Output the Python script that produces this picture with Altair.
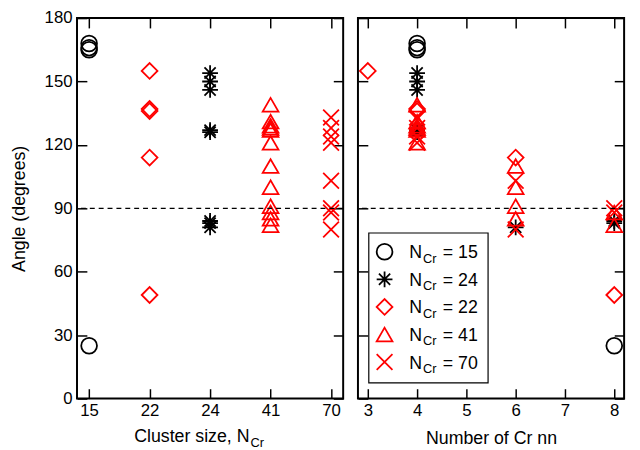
import json
import altair as alt
import pandas as pd

# ---------------- data ----------------
CLUSTER_SIZES = [15, 22, 24, 41, 70]
SERIES = ["15", "24", "22", "41", "70"]          # legend order

ANGLE_15 = [168, 166, 165, 25]
NN_15 = [4, 4, 4, 8]
ANGLE_24 = [154, 150, 146, 127, 126, 84, 83, 81]
NN_24 = [4, 4, 4, 4, 4, 8, 8, 6]
ANGLE_22 = [155, 137, 136, 114, 49]
NN_22 = [3, 4, 4, 6, 8]
ANGLE_41 = [139, 131, 129, 128, 127, 121, 110, 100, 91, 88, 85, 82]
NN_41 = [4, 4, 4, 4, 4, 4, 6, 6, 6, 8, 6, 8]
ANGLE_70 = [133, 128, 124, 121, 103, 90, 88, 80]
NN_70 = [4, 4, 4, 4, 6, 8, 8, 6]

Y_TICKS = [0, 30, 60, 90, 120, 150, 180]
NN_TICKS = [3, 4, 5, 6, 7, 8]
REF_ANGLE = 90

series_data = {
    "15": (ANGLE_15, NN_15),
    "24": (ANGLE_24, NN_24),
    "22": (ANGLE_22, NN_22),
    "41": (ANGLE_41, NN_41),
    "70": (ANGLE_70, NN_70),
}
rows = []
for s, (angles, nns) in series_data.items():
    pos = CLUSTER_SIZES.index(int(s)) + 1
    for a, n in zip(angles, nns):
        rows.append({"series": s, "pos": pos, "nn": n, "angle": a})
df = pd.DataFrame(rows)
legend_df = pd.DataFrame({"series": SERIES, "idx": list(range(len(SERIES)))})

# ---------------- style ----------------
FONT = "Liberation Sans"
ASTERISK = "M0,-1L0,1M-1,0L1,0M-0.71,-0.71L0.71,0.71M-0.71,0.71L0.71,-0.71"
XCROSS = "M-1,-1L1,1M-1,1L1,-1"
COLORS = ["black", "black", "red", "red", "red"]
SHAPES = ["circle", ASTERISK, "diamond", "triangle-up", XCROSS]
SIZES = [256, 256, 310, 330, 170]
W, H = 270, 386
TICK = 10

shape_enc = alt.Shape("series:N", scale=alt.Scale(domain=SERIES, range=SHAPES), legend=None)
color_enc = alt.Color("series:N", scale=alt.Scale(domain=SERIES, range=COLORS), legend=None)
size_enc = alt.Size("series:O", scale=alt.Scale(domain=SERIES, range=SIZES), legend=None)

axis_common = dict(tickSize=TICK, offset=-TICK, domain=False, grid=False,
                   tickColor="black", tickWidth=1.5, labelFont=FONT,
                   labelFontSize=17, labelColor="black")

y_scale = alt.Scale(domain=[0, 180], nice=False, zero=False)

size_labels = json.dumps([str(c) for c in CLUSTER_SIZES])


def panel(xfield, xscale, xvalues, xlabel_expr, xtitle, show_y_labels):
    xaxis = dict(axis_common, values=xvalues, labelPadding=4)
    if xlabel_expr:
        xaxis["labelExpr"] = xlabel_expr
    if xtitle:
        xaxis.update(title=xtitle, titleFont=FONT, titleFontSize=18,
                     titleFontWeight="normal", titleColor="black", titlePadding=12)
    else:
        xaxis["title"] = None
    yaxis = dict(axis_common, values=Y_TICKS, labelPadding=5)
    if show_y_labels:
        yaxis.update(title="Angle (degrees)", titleFont=FONT, titleFontSize=18,
                     titleFontWeight="normal", titleColor="black", titlePadding=16)
    else:
        yaxis.update(labels=False, title=None)

    pts = alt.Chart(df).mark_point(filled=False, strokeWidth=1.8, opacity=1).encode(
        x=alt.X(f"{xfield}:Q", scale=xscale, axis=alt.Axis(**xaxis)),
        y=alt.Y("angle:Q", scale=y_scale, axis=alt.Axis(**yaxis)),
        shape=shape_enc, color=color_enc, size=size_enc,
    )
    mirror = alt.Chart(df).mark_point(opacity=0).encode(
        x=alt.X(f"{xfield}:Q", axis=alt.Axis(**dict(axis_common, values=xvalues, orient="top",
                                                    labels=False, title=None))),
        y=alt.Y("angle:Q", axis=alt.Axis(**dict(axis_common, values=Y_TICKS, orient="right",
                                               labels=False, title=None))),
    )
    rule = alt.Chart(pd.DataFrame({"a": [REF_ANGLE]})).mark_rule(
        color="black", strokeDash=[5, 4], strokeWidth=1.3
    ).encode(y=alt.Y("a:Q", axis=None))
    return [pts, rule, mirror]


left_layers = panel("pos", alt.Scale(domain=[0.8, 5.2], nice=False, zero=False),
                    [1, 2, 3, 4, 5], f"{size_labels}[datum.value - 1]", None, True)

xt_main = alt.Chart(pd.DataFrame({"t": ["Cluster size, N"]})).mark_text(
    font=FONT, fontSize=18, align="right", baseline="alphabetic", color="black"
).encode(text="t:N", x=alt.value(175), y=alt.value(H + 44))
xt_sub = alt.Chart(pd.DataFrame({"t": ["Cr"]})).mark_text(
    font=FONT, fontSize=13, align="left", baseline="alphabetic", color="black"
).encode(text="t:N", x=alt.value(176), y=alt.value(H + 49))

left = alt.layer(*left_layers, xt_main, xt_sub).resolve_axis(
    x="independent", y="independent").properties(width=W, height=H)

right_layers = panel("nn", alt.Scale(domain=[2.8, 8.2], nice=False, zero=False),
                     NN_TICKS, None, "Number of Cr nn", False)

# custom legend (subscripted labels)
LEG_Y0, LEG_STEP = 237, 28
box = alt.Chart(pd.DataFrame({"b": [0]})).mark_rect(
    fill="white", stroke="black", strokeWidth=1.2
).encode(x=alt.value(11), x2=alt.value(132), y=alt.value(218), y2=alt.value(370))
leg_base = alt.Chart(legend_df).transform_calculate(
    ly=f"{LEG_Y0} + {LEG_STEP} * datum.idx",
    lyb=f"{LEG_Y0} + {LEG_STEP} * datum.idx + 6.5",
    lys=f"{LEG_Y0} + {LEG_STEP} * datum.idx + 11",
    lab="'= ' + datum.series",
)
leg_sym = leg_base.mark_point(filled=False, strokeWidth=1.8, opacity=1).encode(
    x=alt.value(27), y=alt.Y("ly:Q", scale=None),
    shape=shape_enc, color=color_enc, size=size_enc,
)
leg_n = leg_base.mark_text(font=FONT, fontSize=18, align="left", baseline="alphabetic",
                           color="black").encode(
    x=alt.value(52), y=alt.Y("lyb:Q", scale=None), text=alt.value("N"))
leg_cr = leg_base.mark_text(font=FONT, fontSize=13, align="left", baseline="alphabetic",
                            color="black").encode(
    x=alt.value(66), y=alt.Y("lys:Q", scale=None), text=alt.value("Cr"))
leg_eq = leg_base.mark_text(font=FONT, fontSize=18, align="left", baseline="alphabetic",
                            color="black").encode(
    x=alt.value(86), y=alt.Y("lyb:Q", scale=None), text="lab:N")

right = alt.layer(*right_layers, box, leg_sym, leg_n, leg_cr, leg_eq).resolve_axis(
    x="independent", y="independent").properties(width=W, height=H)

chart = alt.hconcat(left, right, spacing=10).properties(
    padding={"left": 1, "top": -3, "right": 5, "bottom": 0}
).configure_view(stroke="black", strokeWidth=2)

chart.save("out.html", embed_options={"renderer": "svg", "actions": False})
